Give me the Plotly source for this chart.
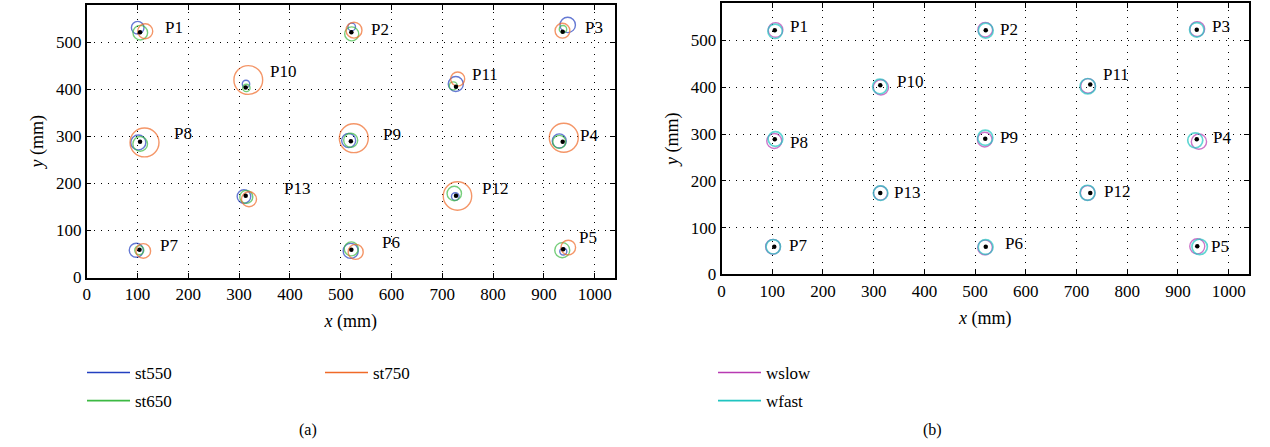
import plotly.graph_objects as go

# ---------------- data ----------------
points = ["P1", "P2", "P3", "P4", "P5", "P6", "P7", "P8", "P9", "P10", "P11", "P12", "P13"]
true_x = [105, 521, 937, 937, 938, 521, 104, 105, 520, 313, 727, 727, 313]
true_y = [522, 522, 523, 289, 60, 59, 59, 289, 290, 404, 406, 174, 174]

# panel (a): estimated centres and radii (mm)
st550_x = [100.4, 521.7, 946.9, 930.3, 938.2, 519.7, 97.6, 101.6, 515.7, 313.6, 726.6, 725.6, 309.6]
st550_y = [531.5, 533.2, 537.4, 290.6, 55.3, 56.6, 58.1, 287.2, 291.5, 411.9, 411.7, 172.3, 172.3]
st550_r = [12.4, 7.5, 15.2, 13.8, 6.9, 14.8, 13.8, 14.8, 13.8, 7.3, 14.8, 7.5, 13.4]

st650_x = [105.5, 521.7, 937.6, 930.3, 936.2, 520.9, 103.5, 105.3, 519.7, 314.2, 721.7, 723.6, 314.2]
st650_y = [520.9, 518.3, 528.3, 288.5, 58.1, 60.9, 58.1, 284.3, 292.1, 403.4, 407.7, 178.7, 171.5]
st650_r = [14.4, 13.8, 7.3, 12.8, 14.8, 13.8, 8.9, 14.4, 13.8, 7.3, 7.9, 14.2, 12.8]

st750_x = [115.2, 526.2, 936.6, 939.2, 948.0, 529.5, 111.4, 113.8, 525.8, 318.1, 730.3, 729.9, 319.5]
st750_y = [524.0, 526.2, 525.1, 297.4, 63.8, 54.5, 56.6, 287.4, 296.4, 420.2, 422.3, 173.4, 166.6]
st750_r = [14.8, 15.7, 14.6, 28.5, 14.4, 14.8, 14.4, 28.5, 28.5, 28.3, 13.8, 28.0, 14.8]

# panel (b)
wslow_x = [106.6, 520.0, 938.0, 941.3, 938.0, 519.5, 101.6, 104.0, 519.0, 314.3, 722.7, 722.0, 313.5]
wslow_y = [522.4, 523.0, 524.4, 283.7, 60.0, 57.5, 59.0, 285.1, 288.0, 399.7, 402.8, 174.0, 173.8]
wslow_r = [14.4, 14.4, 14.6, 15.0, 14.8, 14.4, 14.6, 14.8, 14.4, 15.0, 14.4, 14.4, 13.8]

wfast_x = [105.7, 521.0, 937.0, 934.0, 942.7, 520.7, 102.0, 106.3, 520.0, 312.3, 722.1, 721.6, 313.7]
wfast_y = [519.5, 521.0, 522.6, 286.5, 58.9, 58.6, 59.0, 289.4, 292.0, 401.5, 402.1, 174.4, 173.6]
wfast_r = [14.2, 14.6, 14.2, 14.8, 15.2, 14.6, 14.2, 14.4, 15.0, 14.4, 15.2, 14.8, 14.2]

x_ticks = [0, 100, 200, 300, 400, 500, 600, 700, 800, 900, 1000]
y_ticks = [0, 100, 200, 300, 400, 500]

# ---------------- style ----------------
FONT = "Liberation Serif"
PX_PER_MM = 0.508
colors = {"st550": "#2340c0", "st650": "#3cb943", "st750": "#f06a28",
          "wslow": "#b83ab2", "wfast": "#1fc4c0"}
widths = {"st550": 1.4, "st650": 1.4, "st750": 1.4, "wslow": 1.4, "wfast": 1.7}

# label pixel offsets (dx, dy up) per panel
lab_off_a = [(23, 4.6), (17.6, 2.3), (20.6, 4), (15.6, 6.3), (14, 12), (28.3, 7.3), (18.6, 4),
             (31.7, 7.7), (30, 7), (22.6, 16.3), (14, 12), (24.3, 7.4), (36.6, 7.4)]
lab_off_b = [(13, 3.6), (12.6, 1), (13.3, 3), (14, 1.3), (12, 0), (17.6, 3.3), (13, 1),
             (13.4, -3), (12.6, 1), (14.3, 3.6), (10.7, 10.3), (11.7, 1), (12, 0)]

fig = go.Figure()


def add_circles(name, xs, ys, rs, xa, ya, legend):
    fig.add_trace(go.Scatter(
        x=xs, y=ys, mode="markers", xaxis=xa, yaxis=ya, showlegend=False,
        marker=dict(symbol="circle-open", size=[2 * r for r in rs], sizemode="diameter",
                    sizeref=1 / PX_PER_MM, color=colors[name],
                    line=dict(color=colors[name], width=widths[name])),
        hoverinfo="skip"))
    fig.add_trace(go.Scatter(
        x=[None], y=[None], mode="lines", xaxis=xa, yaxis=ya, name=name,
        legend=legend, legendgroup=name,
        line=dict(color=colors[name], width=1.6)))


add_circles("st550", st550_x, st550_y, st550_r, "x", "y", "legend")
add_circles("st650", st650_x, st650_y, st650_r, "x", "y", "legend")
add_circles("st750", st750_x, st750_y, st750_r, "x", "y", "legend2")
add_circles("wslow", wslow_x, wslow_y, wslow_r, "x2", "y2", "legend3")
add_circles("wfast", wfast_x, wfast_y, wfast_r, "x2", "y2", "legend3")

for xa, ya in [("x", "y"), ("x2", "y2")]:
    fig.add_trace(go.Scatter(x=true_x, y=true_y, mode="markers", xaxis=xa, yaxis=ya,
                             showlegend=False, marker=dict(color="black", size=4.5)))

annotations = []
for offs, xr, yr in [(lab_off_a, "x", "y"), (lab_off_b, "x2", "y2")]:
    for name, px, py, (dx, dy) in zip(points, true_x, true_y, offs):
        annotations.append(dict(x=px, y=py, xref=xr, yref=yr, text=name, showarrow=False,
                                xanchor="left", yanchor="middle", xshift=dx, yshift=dy,
                                font=dict(family=FONT, size=17, color="black")))

annotations.append(dict(x=308 / 1270, y=1 - 430 / 447, xref="paper", yref="paper", text="(a)",
                        showarrow=False, xanchor="center", yanchor="middle",
                        font=dict(family=FONT, size=16, color="black")))
annotations.append(dict(x=932 / 1270, y=1 - 430 / 447, xref="paper", yref="paper", text="(b)",
                        showarrow=False, xanchor="center", yanchor="middle",
                        font=dict(family=FONT, size=16, color="black")))

axis_common = dict(
    showline=True, linecolor="black", linewidth=1.5, mirror="ticks",
    ticks="inside", ticklen=5, tickcolor="black", tickwidth=1,
    showgrid=True, gridcolor="black", gridwidth=1, griddash="1px,6px",
    zeroline=False, automargin=False,
    tickfont=dict(family=FONT, size=17, color="black"),
)

xa_common = dict(axis_common, range=[0, 1040], tickvals=x_ticks,
                 title=dict(text="<i>x</i> (mm)", font=dict(family=FONT, size=18, color="black"),
                            standoff=12))
ya_common = dict(axis_common, range=[0, 580], tickvals=y_ticks,
                 title=dict(text="<i>y</i> (mm)", font=dict(family=FONT, size=18, color="black"),
                            standoff=8))

legend_common = dict(font=dict(family=FONT, size=17, color="black"), bgcolor="rgba(0,0,0,0)",
                     borderwidth=0, yanchor="top", xanchor="left", itemwidth=43,
                     tracegroupgap=3, orientation="v")

fig.update_layout(
    width=1270, height=447, margin=dict(l=0, r=0, t=0, b=0),
    font=dict(family=FONT, size=16, color="black"),
    paper_bgcolor="white", plot_bgcolor="white",
    xaxis=dict(xa_common, domain=[86.7 / 1270, 615 / 1270], anchor="y"),
    yaxis=dict(ya_common, domain=[1 - 277.5 / 447, 1 - 4.9 / 447], anchor="x"),
    xaxis2=dict(xa_common, domain=[721.5 / 1270, 1249 / 1270], anchor="y2"),
    yaxis2=dict(ya_common, domain=[1 - 274.4 / 447, 1 - 3 / 447], anchor="x2"),
    legend=dict(legend_common, x=82 / 1270, y=1 - 355 / 447),
    legend2=dict(legend_common, x=320 / 1270, y=1 - 355 / 447),
    legend3=dict(legend_common, x=713 / 1270, y=1 - 355 / 447),
    annotations=annotations,
    showlegend=True,
)

fig.write_html("out.html", post_script="document.body.style.margin='0';",
               config={"displayModeBar": False})
